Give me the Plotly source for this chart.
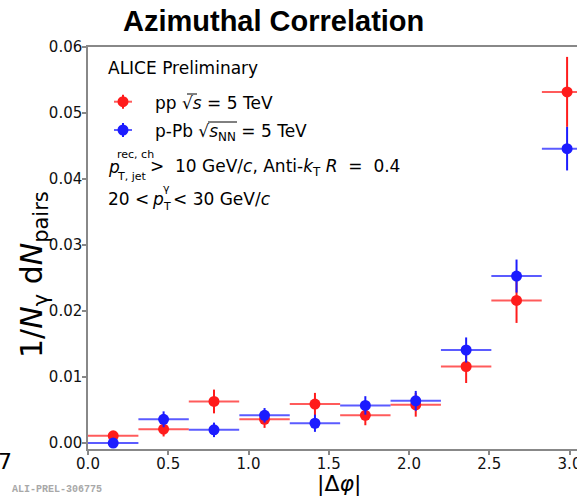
import plotly.graph_objects as go

# ---- data ----
dphi_centers = [0.157, 0.471, 0.785, 1.100, 1.414, 1.728, 2.042, 2.356, 2.670, 2.985]
dphi_halfwidth = [0.157] * 10

pp_values = [0.0011, 0.0021, 0.0063, 0.0036, 0.0059, 0.0042, 0.0058, 0.0116, 0.0216, 0.0532]
pp_errors = [0.0004, 0.0011, 0.0018, 0.0013, 0.0017, 0.0015, 0.0018, 0.0025, 0.0034, 0.0053]

ppb_values = [0.0000, 0.0036, 0.0020, 0.0042, 0.0030, 0.0057, 0.0064, 0.0141, 0.0253, 0.0446]
ppb_errors = [0.0003, 0.0012, 0.0011, 0.0011, 0.0013, 0.0014, 0.0015, 0.0019, 0.0025, 0.0033]

x_ticks = [0.0, 0.5, 1.0, 1.5, 2.0, 2.5, 3.0]
y_ticks = [0.00, 0.01, 0.02, 0.03, 0.04, 0.05, 0.06]

RED = "rgb(255,28,28)"
RED_L = "rgba(255,28,28,0.72)"
BLUE = "rgb(28,28,255)"
BLUE_L = "rgba(28,28,255,0.72)"

W, H = 577, 496
L, R, T, B = 88, 0, 47, 47
PW, PH = W - L - R, H - T - B


def P(px, py):
    return (px - L) / PW, (H - B - py) / PH


fig = go.Figure()
for vals, errs, c, cl, name in [
    (pp_values, pp_errors, RED, RED_L, "pp"),
    (ppb_values, ppb_errors, BLUE, BLUE_L, "p-Pb"),
]:
    fig.add_trace(go.Scatter(
        x=dphi_centers, y=vals, mode="markers", name=name,
        marker=dict(color=c, size=11, line=dict(width=0)),
        error_x=dict(type="data", array=dphi_halfwidth, color=cl, thickness=2, width=0),
        error_y=dict(type="data", array=errs, color=c, thickness=2, width=0),
        showlegend=False,
    ))

annotations = []
shapes = []


def txt(px, py, text, size=17, anchor="left", family="DejaVu Sans", color="black", angle=0):
    x, y = P(px, py)
    annotations.append(dict(x=x, y=y, xref="paper", yref="paper", text=text,
                            showarrow=False, xanchor=anchor, yanchor="middle",
                            textangle=angle,
                            font=dict(size=size, family=family, color=color)))


def seg(px0, py0, px1, py1, color, width):
    x0, y0 = P(px0, py0)
    x1, y1 = P(px1, py1)
    shapes.append(dict(type="line", xref="paper", yref="paper", x0=x0, x1=x1, y0=y0, y1=y1,
                       line=dict(color=color, width=width)))


# title
txt(273, 21, "<b>Azimuthal Correlation</b>", size=29, anchor="center", family="Liberation Sans")

# labels in plot
txt(106, 68, "ALICE Preliminary")
txt(153, 103, "pp √<i>s</i> = 5 TeV")
txt(153, 132, "p-Pb √<i>s</i><sub>NN</sub> = 5 TeV")
seg(187, 94, 197, 94, "black", 1)
seg(208, 122, 237, 122, "black", 1)

txt(106, 167, "<i>p</i>")
txt(115, 154, "rec, ch", size=11)
txt(115, 176, "T, jet", size=11)
txt(148, 167, "&gt;&nbsp; 10 GeV/<i>c</i>, Anti-<i>k</i><sub>T</sub> <i>R</i>&nbsp; =&nbsp; 0.4")

txt(106, 199, "20 &lt;")
txt(150, 199, "<i>p</i>")
txt(161, 188, "γ", size=11)
txt(161, 206, "T", size=11)
txt(171, 199, "&lt; 30 GeV/<i>c</i>")

# legend glyphs
for yc, c, cl in [(101.7, RED, RED_L), (130.0, BLUE, BLUE_L)]:
    seg(114, yc, 132, yc, cl, 2)
    seg(123, yc - 7, 123, yc + 7, c, 2)
    cx0, cy0 = P(117.5, yc + 5.5)
    cx1, cy1 = P(128.5, yc - 5.5)
    shapes.append(dict(type="circle", xref="paper", yref="paper", x0=cx0, x1=cx1, y0=cy0, y1=cy1,
                       fillcolor=c, line=dict(width=0)))

# axis titles
txt(33, 275, "1/<i>N</i><sub>γ</sub> d<i>N</i><sub>pairs</sub>", size=30, anchor="center", angle=-90)
txt(339, 484, "|Δ<i>φ</i>|", size=22, anchor="center")

# stray text
txt(-4, 462, "7", size=22)
txt(10, 489, "<b>ALI-PREL-306775</b>", size=10, family="Liberation Mono", color="#a8a8a8")

axis_common = dict(
    showgrid=False, zeroline=False, showline=True, linecolor="#888", linewidth=1.5,
    ticks="outside", ticklen=4, tickwidth=1.5, tickcolor="#888",
    tickfont=dict(family="DejaVu Sans", size=15, color="#111"),
    automargin=False, ticklabeloverflow="allow",
)

fig.update_layout(
    width=W, height=H, margin=dict(l=L, r=R, t=T, b=B, pad=0),
    paper_bgcolor="white", plot_bgcolor="white",
    xaxis=dict(range=[0, PW / 160.5], tickvals=x_ticks, tickformat=".1f", mirror=True,
               ticklabelstandoff=-4, **axis_common),
    yaxis=dict(range=[-0.0009, 0.06], tickvals=y_ticks, tickformat=".2f",
               ticklabelstandoff=-3, **axis_common),
    annotations=annotations, shapes=shapes, showlegend=False,
)

fig.write_html("out.html")
